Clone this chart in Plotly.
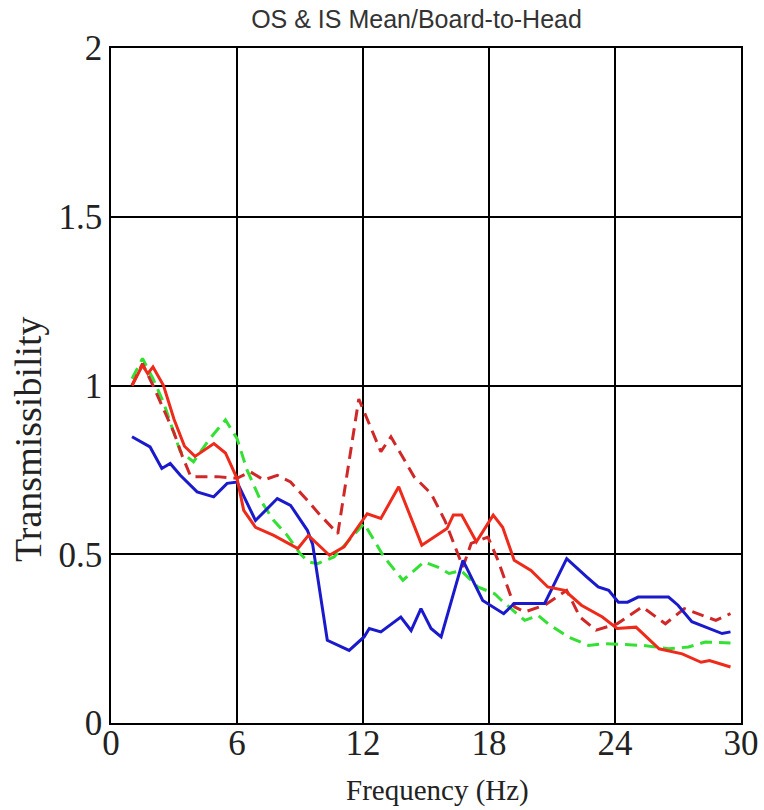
import plotly.graph_objects as go

# Blue solid
blue_f = [1.0, 1.86, 2.42, 2.82, 3.3, 4.1, 4.89, 5.53, 6.0, 6.88, 7.92, 8.55, 9.35, 9.6, 10.3, 11.34,
          12.05, 12.3, 12.85, 13.8, 14.29, 14.76, 15.24, 15.72, 16.76, 17.7, 18.7, 19.2, 20.65, 21.7,
          22.65, 23.2, 23.7, 24.16, 24.6, 25.1, 26.55, 27.0, 27.66, 28.46, 29.1, 29.5]
blue_v = [0.848, 0.818, 0.754, 0.769, 0.734, 0.685, 0.67, 0.71, 0.714, 0.60, 0.665, 0.645, 0.571, 0.53,
          0.245, 0.215, 0.255, 0.28, 0.27, 0.314, 0.274, 0.339, 0.28, 0.255, 0.482, 0.363, 0.324, 0.354,
          0.354, 0.487, 0.433, 0.403, 0.393, 0.358, 0.358, 0.373, 0.373, 0.349, 0.30, 0.28, 0.265, 0.27]

# Red solid
red_f = [1.0, 1.5, 1.75, 2.0, 2.5, 3.0, 3.5, 4.0, 4.9, 5.45, 6.0, 6.32, 6.88, 7.75, 8.9, 9.4, 10.4,
         11.1, 12.2, 12.85, 13.7, 14.8, 16.0, 16.3, 16.7, 17.4, 18.2, 18.65, 19.2, 20.0, 20.8, 21.6,
         22.4, 23.4, 24.1, 25.0, 26.1, 27.2, 28.1, 28.5, 29.5]
red_v = [1.0, 1.06, 1.035, 1.055, 1.0, 0.9, 0.82, 0.79, 0.828, 0.80, 0.725, 0.63, 0.58, 0.556, 0.517,
         0.556, 0.497, 0.522, 0.62, 0.606, 0.70, 0.527, 0.576, 0.616, 0.616, 0.537, 0.616, 0.58, 0.482,
         0.452, 0.403, 0.393, 0.349, 0.314, 0.28, 0.284, 0.22, 0.205, 0.18, 0.185, 0.166]

# Red dashed
redd_f = [1.0, 1.5, 2.0, 2.5, 3.0, 3.4, 3.8, 5.05, 6.0, 6.64, 7.28, 7.92, 8.55, 9.35, 9.9, 10.8, 11.8,
          12.85, 13.33, 14.44, 15.24, 15.9, 16.76, 17.15, 17.95, 18.43, 19.22, 19.7, 20.65, 21.7, 22.33,
          23.1, 24.1, 25.3, 26.4, 27.3, 28.8, 29.5]
redd_v = [1.0, 1.065, 1.0, 0.93, 0.86, 0.79, 0.73, 0.73, 0.725, 0.744, 0.72, 0.734, 0.714, 0.66, 0.62,
          0.561, 0.96, 0.804, 0.848, 0.729, 0.68, 0.60, 0.462, 0.532, 0.551, 0.482, 0.344, 0.329, 0.349,
          0.393, 0.314, 0.275, 0.294, 0.344, 0.294, 0.339, 0.304, 0.324]

# Green dashed
green_f = [1.0, 1.5, 2.0, 2.5, 3.3, 3.93, 4.65, 5.45, 6.0, 6.48, 7.12, 7.75, 8.39, 9.03, 9.43, 9.83,
           10.62, 12.05, 13.0, 13.9, 14.9, 15.56, 16.1, 16.67, 17.47, 18.27, 18.6, 19.22, 19.7, 20.34,
           20.82, 21.77, 22.73, 23.5, 25.3, 26.55, 27.5, 28.3, 29.5]
green_v = [1.02, 1.08, 1.02, 0.95, 0.804, 0.774, 0.838, 0.898, 0.843, 0.749, 0.66, 0.60, 0.556, 0.50,
           0.477, 0.472, 0.492, 0.591, 0.492, 0.423, 0.477, 0.462, 0.443, 0.452, 0.403, 0.383, 0.363,
           0.33, 0.304, 0.319, 0.294, 0.255, 0.23, 0.235, 0.23, 0.22, 0.225, 0.24, 0.237]

x_ticks = [0, 6, 12, 18, 24, 30]
y_ticks = [0, 0.5, 1, 1.5, 2]
y_tick_labels = ["0", "0.5", "1", "1.5", "2"]

fig = go.Figure()
fig.add_trace(go.Scatter(x=green_f, y=green_v, mode="lines", name="green",
                         line=dict(color="#33e033", width=3, dash="12px,7px")))
fig.add_trace(go.Scatter(x=redd_f, y=redd_v, mode="lines", name="red dashed",
                         line=dict(color="#d02828", width=3, dash="12px,7px")))
fig.add_trace(go.Scatter(x=blue_f, y=blue_v, mode="lines", name="blue",
                         line=dict(color="#1a1acc", width=3)))
fig.add_trace(go.Scatter(x=red_f, y=red_v, mode="lines", name="red",
                         line=dict(color="#ee2a1a", width=3)))

serif = "Liberation Serif, Times New Roman, serif"
fig.update_layout(
    width=764, height=810,
    margin=dict(l=111, r=23, t=48, b=87),
    paper_bgcolor="white", plot_bgcolor="white",
    showlegend=False,
    title=dict(text="OS &amp; IS Mean/Board-to-Head", x=0.5452, xanchor="center",
               y=0.9765, yanchor="middle",
               font=dict(family="Liberation Sans, Arial, sans-serif", size=25, color="#333333")),
    xaxis=dict(range=[0, 30], tickvals=x_ticks, ticktext=[str(t) for t in x_ticks],
               showgrid=True, gridcolor="black", gridwidth=1.5,
               showline=True, linecolor="black", linewidth=1.5, mirror=True,
               ticks="inside", ticklen=5, tickcolor="black", zeroline=False, automargin=False,
               ticklabelstandoff=-12,
               tickfont=dict(family=serif, size=35, color="#222")),
    yaxis=dict(range=[0, 2], tickvals=y_ticks, ticktext=y_tick_labels,
               showgrid=True, gridcolor="black", gridwidth=1.5,
               showline=True, linecolor="black", linewidth=1.5, mirror=True,
               ticks="inside", ticklen=5, tickcolor="black", zeroline=False, automargin=False,
               tickfont=dict(family=serif, size=35, color="#222")),
    annotations=[
        dict(text="Frequency (Hz)", xref="paper", yref="paper", x=0.5175, y=-0.0993,
             xanchor="center", yanchor="middle", showarrow=False,
             font=dict(family=serif, size=29, color="#222")),
        dict(text="Transmissibility", xref="paper", yref="paper", x=-0.1317, y=0.4207,
             xanchor="center", yanchor="middle", showarrow=False, textangle=-90,
             font=dict(family=serif, size=38, color="#222")),
    ],
)

fig.write_html("out.html", config={"displayModeBar": False},
               post_script="document.body.style.margin='0';document.body.style.overflow='hidden';")
